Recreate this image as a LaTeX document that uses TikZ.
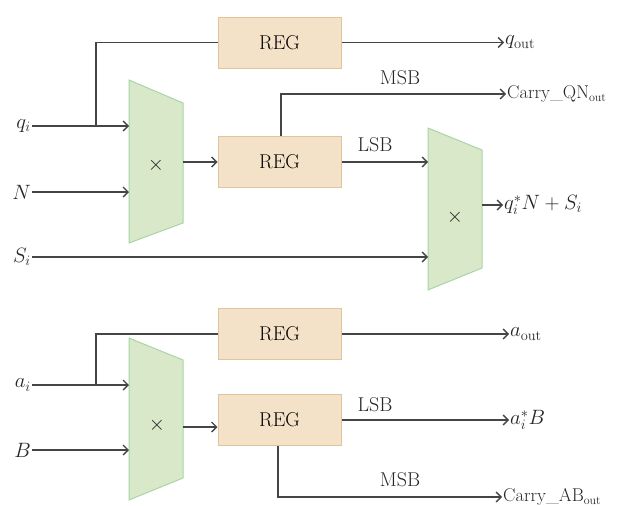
\documentclass[tikz,border=0pt]{standalone}
\usetikzlibrary{arrows.meta}
\definecolor{regfill}{HTML}{F3E1C8}
\definecolor{regdraw}{HTML}{E2C49C}
\definecolor{muxfill}{HTML}{D8E8C8}
\definecolor{muxdraw}{HTML}{A8D5A8}
\definecolor{wirec}{HTML}{454545}
\begin{document}
\begin{tikzpicture}[x=1pt,y=-1pt,
 reg/.style={draw=regdraw, fill=regfill, line width=1pt, minimum width=123pt, minimum height=51pt, inner sep=0pt, font=\fontsize{20}{23}\selectfont},
 mux/.style={draw=muxdraw, fill=muxfill, line width=1pt},
 wire/.style={draw=wirec, line width=1.3pt, -{Straight Barb[length=5pt,width=10pt,line width=1.3pt]}},
 plain/.style={draw=wirec, line width=1.3pt},
 lbl/.style={font=\fontsize{20}{23}\selectfont, inner sep=1pt, text=black!85},
 carry/.style={lbl, font=\fontsize{18.5}{22}\selectfont}]
\useasboundingbox (0,0) rectangle (619,506);
% registers
\node[reg] (r1) at (279.5,42.5) {REG};
\node[reg] (r2) at (279.5,162) {REG};
\node[reg] (r3) at (279.5,334) {REG};
\node[reg] (r4) at (279.5,420) {REG};
% multipliers
\path[mux] (129,80) -- (183,103) -- (183,223) -- (129,243) -- cycle;
\path[mux] (428,128) -- (482,150) -- (482,268) -- (428,290) -- cycle;
\path[mux] (129,338) -- (183,360) -- (183,478) -- (129,500) -- cycle;
\node[lbl] (m1) at (156,165) {$\times$};
\node[lbl] (m2) at (455,217) {$\times$};
\node[lbl] (m3) at (157,425) {$\times$};
\coordinate (m1a) at (129,126);
\coordinate (m1b) at (129,192);
\coordinate (m1o) at (183,162);
\coordinate (m2a) at (428,162);
\coordinate (m2b) at (428,257);
\coordinate (m2o) at (482,205);
\coordinate (m3a) at (129,385);
\coordinate (m3b) at (129,450);
\coordinate (m3o) at (183,427);
\coordinate (qj) at (96,126);
\coordinate (aj) at (96,385);
% input labels
\node[lbl, anchor=east] (qi) at (32,126) {$q_i$};
\node[lbl, anchor=east] (n) at (32,192) {$N$};
\node[lbl, anchor=east] (si) at (32,257) {$S_i$};
\node[lbl, anchor=east] (ai) at (32,385) {$a_i$};
\node[lbl, anchor=east] (b) at (32,450) {$B$};
% output labels
\node[lbl, anchor=west] (qout) at (504,42.5) {$q_{\mathrm{out}}$};
\node[carry, anchor=west] (cqn) at (506,94) {Carry\_QN$_{\mathrm{out}}$};
\node[lbl, anchor=west] (res) at (503,205) {$q_i^*N+S_i$};
\node[lbl, anchor=west] (aout) at (509,334) {$a_{\mathrm{out}}$};
\node[lbl, anchor=west] (ab) at (509,420) {$a_i^*B$};
\node[carry, anchor=west] (cab) at (502,497) {Carry\_AB$_{\mathrm{out}}$};
% bit labels
\node[lbl] (msb1) at (400,78) {MSB};
\node[lbl] (lsb1) at (375,145) {LSB};
\node[lbl] (lsb2) at (375,405) {LSB};
\node[lbl] (msb2) at (400,480) {MSB};
% wires upper
\draw[wire] (qi.east) -- (m1a);
\draw[wire] (n.east) -- (m1b);
\draw[plain] (r1.west) -| (qj);
\draw[wire] (r1.east) -- (qout.west);
\draw[wire] (m1o) -- (m1o -| r2.west);
\draw[wire] ([xshift=1.5pt]r2.north) |- (cqn.west);
\draw[wire] (r2.east) -- (m2a);
\draw[wire] (si.east) -- (m2b);
\draw[wire] (m2o) -- (res.west);
% wires lower
\draw[wire] (ai.east) -- (m3a);
\draw[wire] (b.east) -- (m3b);
\draw[plain] (r3.west) -| (aj);
\draw[wire] (r3.east) -- (aout.west);
\draw[wire] (m3o) -- (m3o -| r4.west);
\draw[wire] (r4.east) -- (ab.west);
\draw[wire] ([xshift=-1.5pt]r4.south) |- (cab.west);
\end{tikzpicture}
\end{document}
